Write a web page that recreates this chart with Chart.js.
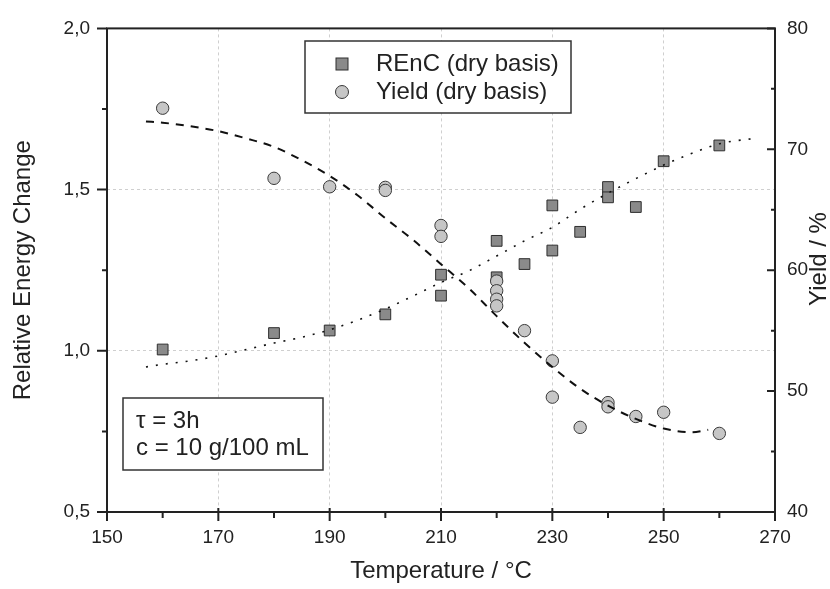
<!DOCTYPE html>
<html lang="en">
<head>
  <meta charset="UTF-8">
  <title>Relative energy change and yield vs temperature</title>
  <script src="https://cdn.jsdelivr.net/npm/chart.js"></script>
  <style>
    html, body { margin: 0; padding: 0; background: #fff; }
  </style>
</head>
<body>
  <canvas id="chart" width="830" height="589"></canvas>

  <script>
    // REnC measurements (left axis)
    const rencTemp  = [160, 180, 190, 200, 210, 210, 220, 220, 225, 230, 230, 235, 240, 240, 245, 250, 260];
    const rencValue = [1.004, 1.055, 1.063, 1.113, 1.236, 1.171, 1.341, 1.228, 1.269, 1.451, 1.311, 1.369, 1.508, 1.476, 1.446, 1.588, 1.637];

    // yield measurements (right axis, %)
    const yieldTemp  = [160, 180, 190, 200, 200, 210, 210, 220, 220, 220, 220, 225, 230, 230, 235, 240, 240, 245, 250, 260];
    const yieldValue = [73.4, 67.6, 66.9, 66.85, 66.6, 63.7, 62.8, 59.1, 58.3, 57.6, 57.05, 55.0, 52.5, 49.5, 47.0, 49.05, 48.7, 47.9, 48.25, 46.5];

    // fitted curves
    const rencFitTemp  = [157, 160, 165, 170, 175, 180, 185, 190, 195, 200, 205, 210, 215, 220, 225, 230, 235, 240, 245, 250, 255, 260, 265, 267];
    const rencFitValue = [0.950, 0.958, 0.969, 0.984, 1.004, 1.024, 1.042, 1.065, 1.095, 1.130, 1.170, 1.212, 1.248, 1.294, 1.341, 1.383, 1.439, 1.489, 1.534, 1.576, 1.612, 1.642, 1.656, 1.659];

    const yieldFitTemp  = [157, 160, 165, 170, 175, 180, 185, 190, 195, 200, 205, 210, 215, 220, 225, 230, 235, 240, 245, 250, 255, 258];
    const yieldFitValue = [72.3, 72.2, 71.9, 71.5, 70.9, 70.2, 69.1, 67.8, 66.2, 64.3, 62.5, 60.5, 58.5, 56.2, 54.0, 52.0, 50.2, 48.8, 47.7, 46.9, 46.6, 46.8];

    const ink = '#222';
    const font = 'Arial, "Liberation Sans", sans-serif';

    function pairs(xs, ys) {
      return xs.map((x, i) => ({ x: x, y: ys[i] }));
    }

    function comma(v) {
      return v.toFixed(1).replace('.', ',');
    }

    // frame, tick marks, axis titles, legend and note box
    const decor = {
      id: 'decor',
      afterDraw(chart) {
        const { ctx, chartArea: a, scales } = chart;
        ctx.save();
        ctx.strokeStyle = ink;
        ctx.lineWidth = 2;
        ctx.strokeRect(a.left, a.top, a.right - a.left, a.bottom - a.top);

        ctx.beginPath();
        for (let t = 150; t <= 270; t += 10) {
          const px = scales.x.getPixelForValue(t);
          const major = (t - 150) % 20 === 0;
          ctx.moveTo(px, a.bottom - (major ? 4 : 0));
          ctx.lineTo(px, a.bottom + (major ? 9 : 6));
        }
        for (let v = 0.5; v <= 2.0001; v += 0.25) {
          const py = scales.y.getPixelForValue(v);
          const major = Math.abs(v * 2 - Math.round(v * 2)) < 1e-6;
          ctx.moveTo(a.left, py);
          ctx.lineTo(a.left - (major ? 10 : 5), py);
        }
        for (let v = 40; v <= 80; v += 5) {
          const py = scales.y2.getPixelForValue(v);
          const major = v % 10 === 0;
          ctx.moveTo(a.right, py);
          ctx.lineTo(a.right - (major ? 8 : 4), py);
        }
        ctx.stroke();

        ctx.fillStyle = ink;
        ctx.font = '24px ' + font;
        ctx.textAlign = 'center';
        ctx.textBaseline = 'middle';
        ctx.fillText('Temperature / °C', (a.left + a.right) / 2, 571);

        ctx.save();
        ctx.translate(23, (a.top + a.bottom) / 2);
        ctx.rotate(-Math.PI / 2);
        ctx.fillText('Relative Energy Change', 0, 0);
        ctx.restore();

        ctx.save();
        ctx.translate(819, 259);
        ctx.rotate(-Math.PI / 2);
        ctx.fillText('Yield / %', 0, 0);
        ctx.restore();

        // legend
        ctx.lineWidth = 1.5;
        ctx.fillStyle = '#fff';
        ctx.fillRect(305, 41, 266, 72);
        ctx.strokeStyle = '#333';
        ctx.strokeRect(305, 41, 266, 72);

        const sq = chart.data.datasets[3];
        const ci = chart.data.datasets[2];
        ctx.lineWidth = 1;
        ctx.fillStyle = sq.backgroundColor;
        ctx.strokeStyle = sq.borderColor;
        ctx.fillRect(336, 58, 12, 12);
        ctx.strokeRect(336, 58, 12, 12);
        ctx.beginPath();
        ctx.arc(342, 92, 6.5, 0, Math.PI * 2);
        ctx.fillStyle = ci.backgroundColor;
        ctx.fill();
        ctx.strokeStyle = ci.borderColor;
        ctx.stroke();

        ctx.fillStyle = ink;
        ctx.textAlign = 'left';
        ctx.fillText(sq.label, 376, 64);
        ctx.fillText(ci.label, 376, 92);

        // conditions note
        ctx.lineWidth = 1.5;
        ctx.fillStyle = '#fff';
        ctx.fillRect(123, 398, 200, 72);
        ctx.strokeStyle = '#333';
        ctx.strokeRect(123, 398, 200, 72);
        ctx.fillStyle = ink;
        ctx.fillText('τ = 3h', 136, 421);
        ctx.fillText('c = 10 g/100 mL', 136, 448);

        ctx.restore();
      }
    };

    const gridDash = { display: false, dash: [3, 3] };

    new Chart(document.getElementById('chart'), {
      type: 'scatter',
      data: {
        datasets: [
          {
            label: 'Yield fit',
            data: pairs(yieldFitTemp, yieldFitValue),
            yAxisID: 'y2',
            showLine: true,
            borderColor: '#111',
            borderWidth: 2,
            borderDash: [8, 7],
            pointRadius: 0,
            cubicInterpolationMode: 'monotone',
            order: 0
          },
          {
            label: 'REnC fit',
            data: pairs(rencFitTemp, rencFitValue),
            yAxisID: 'y',
            showLine: true,
            borderColor: '#111',
            borderWidth: 1.6,
            borderDash: [2, 8],
            pointRadius: 0,
            cubicInterpolationMode: 'monotone',
            order: 0
          },
          {
            label: 'Yield (dry basis)',
            data: pairs(yieldTemp, yieldValue),
            yAxisID: 'y2',
            pointStyle: 'circle',
            pointRadius: 6.2,
            backgroundColor: '#c6c6c6',
            borderColor: '#3a3a3a',
            borderWidth: 1,
            order: 1
          },
          {
            label: 'REnC (dry basis)',
            data: pairs(rencTemp, rencValue),
            yAxisID: 'y',
            pointStyle: 'rect',
            pointRadius: 7.6,
            backgroundColor: '#8a8a8a',
            borderColor: '#2e2e2e',
            borderWidth: 1,
            order: 2
          }
        ]
      },
      options: {
        responsive: false,
        animation: false,
        layout: { padding: { top: 20, left: 0, right: 0, bottom: 0 } },
        plugins: {
          legend: { display: false },
          tooltip: { enabled: false }
        },
        scales: {
          x: {
            type: 'linear',
            min: 150,
            max: 270,
            afterFit: s => { s.height = 77; },
            ticks: { stepSize: 20, padding: 14, color: ink, font: { family: font, size: 19 } },
            grid: { color: '#cfcfcf', drawTicks: false },
            border: gridDash
          },
          y: {
            position: 'left',
            min: 0.5,
            max: 2.0,
            afterFit: s => { s.width = 107; },
            ticks: { stepSize: 0.5, padding: 17, color: ink, font: { family: font, size: 19 }, callback: v => comma(v) },
            grid: { color: '#cfcfcf', drawTicks: false },
            border: gridDash
          },
          y2: {
            position: 'right',
            min: 40,
            max: 80,
            afterFit: s => { s.width = 55; },
            ticks: { stepSize: 10, padding: 12, color: ink, font: { family: font, size: 19 } },
            grid: { display: false, drawTicks: false },
            border: { display: false }
          }
        }
      },
      plugins: [decor]
    });
  </script>
</body>
</html>
